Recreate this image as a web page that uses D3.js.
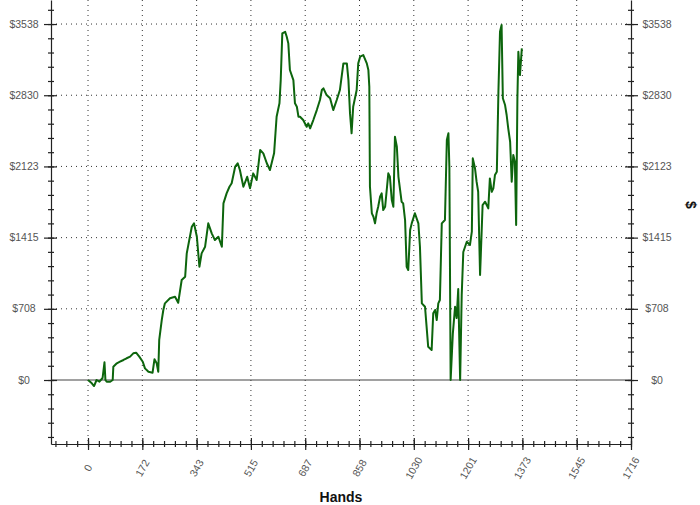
<!DOCTYPE html>
<html lang="en">

<head>
  <meta charset="UTF-8" />
  <title>Hands graph</title>
  <script src="https://d3js.org/d3.v7.min.js"></script>
  <style>
    body {
      margin: 0;
      background: #fff;
    }

    .grid line {
      stroke: #333;
      stroke-width: 1;
      stroke-dasharray: 1, 4;
    }

    .axis path,
    .axis line {
      stroke: #222;
      stroke-width: 1.2;
    }

    .lbl {
      font-family: "Liberation Sans", Arial, sans-serif;
      font-size: 10.5px;
      fill: #555;
    }

    .title {
      font-family: "Liberation Sans", Arial, sans-serif;
      font-size: 14px;
      font-weight: bold;
      fill: #111;
    }
  </style>
</head>

<body>
  <svg width="700" height="505"></svg>

  <script>
    // hand number / cumulative winnings ($)
    const hands = [0, 12, 19, 27, 36, 46, 52, 55, 59, 70, 78, 80, 91, 101, 112, 122, 133, 143, 152, 162,
      173, 180, 191, 204, 210, 217, 222, 225, 233, 238, 243, 259, 275, 285, 296, 307, 312, 320, 328, 335,
      344, 352, 359, 370, 380, 391, 401, 412, 423, 428, 438, 447, 454, 465, 473, 480, 491, 503, 512, 522,
      533, 544, 554, 565, 575, 588, 596, 605, 609, 614, 623, 628, 633, 638, 649, 654, 660, 665, 670, 680,
      691, 696, 702, 712, 723, 733, 739, 744, 754, 765, 775, 786, 796, 807, 818, 823, 828, 833, 838, 849,
      854, 860, 870, 881, 886, 889, 891, 897, 902, 907, 912, 917, 923, 928, 933, 939, 949, 954, 960, 965,
      970, 976, 981, 991, 996, 1002, 1007, 1012, 1018, 1023, 1033, 1044, 1049, 1055, 1065, 1070, 1075, 1086, 1091, 1097,
      1102, 1107, 1112, 1118, 1128, 1134, 1139, 1142, 1146, 1153, 1160, 1165, 1170, 1176, 1181, 1186, 1197, 1207, 1213, 1216,
      1223, 1228, 1233, 1239, 1244, 1247, 1255, 1265, 1270, 1276, 1281, 1286, 1292, 1297, 1302, 1307, 1311, 1318, 1323, 1328,
      1334, 1339, 1344, 1349, 1353, 1357, 1360, 1365, 1371];
    const dollars = [0, -33, -60, 0, -17, 20, 176, 0, -17, -17, 0, 132, 166, 182, 199, 216, 232, 265, 271, 232,
      182, 116, 82, 73, 206, 166, 82, 398, 596, 696, 762, 812, 828, 768, 994, 1027, 1259, 1391, 1523, 1557,
      1424, 1126, 1259, 1325, 1557, 1458, 1391, 1424, 1325, 1756, 1855, 1921, 1955, 2120, 2154, 2087, 1921, 2020, 1905, 2054,
      1988, 2286, 2253, 2154, 2087, 2253, 2617, 2750, 2981, 3445, 3461, 3412, 3346, 3081, 2981, 2750, 2716, 2617, 2617, 2584,
      2517, 2551, 2501, 2584, 2683, 2783, 2882, 2899, 2832, 2800, 2683, 2783, 2882, 3147, 3147, 2981, 2650, 2452, 2716, 2882,
      3147, 3213, 3230, 3147, 3081, 2915, 1921, 1657, 1623, 1557, 1657, 1722, 1822, 1855, 1689, 1722, 2054, 2020, 1789, 1722,
      2418, 2319, 2020, 1772, 1756, 1590, 1126, 1093, 1491, 1557, 1657, 1557, 1325, 762, 728, 530, 331, 298, 663, 696,
      596, 762, 795, 1557, 1590, 2385, 2452, 2120, 0, 464, 728, 616, 904, 0, 845, 1272, 1374, 1342, 1474, 2203,
      2104, 1971, 1871, 1043, 1474, 1739, 1772, 1706, 2004, 1871, 1905, 2037, 2070, 2865, 3461, 3528, 2800, 2733, 2634, 2501,
      2368, 1971, 2236, 2170, 1540, 2800, 3263, 3031, 3296];

    const xTicks = [0, 171.6, 343.2, 514.8, 686.4, 858, 1029.6, 1201.2, 1372.8, 1544.4, 1716];
    const xTickLabels = ["0", "172", "343", "515", "687", "858", "1030", "1201", "1373", "1545", "1716"];
    const yTicks = [0, 707.6, 1415.2, 2122.8, 2830.4, 3538];
    const yTickLabels = ["$0", "$708", "$1415", "$2123", "$2830", "$3538"];
    const xLimits = [-117, 1716];
    const yLimits = [-636, 3777];

    const data = hands.map((h, i) => ({ h: h, v: dollars[i] }));

    const svg = d3.select("svg");
    const mLeft = 51, mRight = 631, mTop = 0, mBottom = 444;

    const x = d3.scaleLinear().domain(xLimits).range([mLeft, mRight]);
    const y = d3.scaleLinear().domain(yLimits).range([mBottom, mTop]);

    // minor ticks: 5 per major step
    const xStep = 1716 / 50, yStep = 3538 / 25;
    const xSmall = d3.range(-3, 51).map(k => k * xStep).filter(v => v >= xLimits[0]);
    const ySmall = d3.range(-4, 27).map(k => k * yStep).filter(v => v >= yLimits[0] && v <= yLimits[1]);

    // grid
    const grid = svg.append("g").attr("class", "grid");
    grid.selectAll(".gx").data(xTicks.slice(0, -1)).join("line")
      .attr("x1", d => x(d)).attr("x2", d => x(d))
      .attr("y1", mTop).attr("y2", mBottom);
    grid.selectAll(".gy").data(yTicks.slice(1)).join("line")
      .attr("x1", mLeft).attr("x2", mRight)
      .attr("y1", d => y(d)).attr("y2", d => y(d));

    // zero line
    svg.append("line")
      .attr("x1", mLeft).attr("x2", mRight)
      .attr("y1", y(0)).attr("y2", y(0))
      .attr("stroke", "#444").attr("stroke-width", 1.2);

    // axes
    const axL = svg.append("g").attr("class", "axis")
      .attr("transform", `translate(${mLeft},0)`)
      .call(d3.axisLeft(y).tickValues(ySmall).tickFormat("").tickSizeOuter(0).tickSizeInner(3));
    axL.selectAll(".tick line").attr("x1", 3);
    const axL2 = svg.append("g").attr("class", "axis")
      .attr("transform", `translate(${mLeft},0)`)
      .call(d3.axisLeft(y).tickValues(yTicks).tickFormat("").tickSizeOuter(0).tickSizeInner(7));
    axL2.select(".domain").remove();
    axL2.selectAll(".tick line").attr("x1", 6);

    const axR = svg.append("g").attr("class", "axis")
      .attr("transform", `translate(${mRight},0)`)
      .call(d3.axisRight(y).tickValues(ySmall).tickFormat("").tickSizeOuter(0).tickSizeInner(3));
    axR.selectAll(".tick line").attr("x1", -3);
    const axR2 = svg.append("g").attr("class", "axis")
      .attr("transform", `translate(${mRight},0)`)
      .call(d3.axisRight(y).tickValues(yTicks).tickFormat("").tickSizeOuter(0).tickSizeInner(7));
    axR2.select(".domain").remove();
    axR2.selectAll(".tick line").attr("x1", -6);

    const axB = svg.append("g").attr("class", "axis")
      .attr("transform", `translate(0,${mBottom})`)
      .call(d3.axisBottom(x).tickValues(xSmall).tickFormat("").tickSizeOuter(0).tickSizeInner(3));
    axB.selectAll(".tick line").attr("y1", -3);
    const axB2 = svg.append("g").attr("class", "axis")
      .attr("transform", `translate(0,${mBottom})`)
      .call(d3.axisBottom(x).tickValues(xTicks).tickFormat("").tickSizeOuter(0).tickSizeInner(6));
    axB2.select(".domain").remove();
    axB2.selectAll(".tick line").attr("y1", -6);

    // labels
    svg.selectAll(".yl").data(yTicks).join("text").attr("class", "lbl")
      .attr("x", 24).attr("y", d => y(d)).attr("dy", "0.35em")
      .attr("text-anchor", "middle").text((d, i) => yTickLabels[i]);
    svg.selectAll(".yr").data(yTicks).join("text").attr("class", "lbl")
      .attr("x", 657).attr("y", d => y(d)).attr("dy", "0.35em")
      .attr("text-anchor", "middle").text((d, i) => yTickLabels[i]);
    svg.selectAll(".xl").data(xTicks).join("text").attr("class", "lbl")
      .attr("transform", d => `translate(${x(d)},468) rotate(-60)`)
      .attr("dy", "0.35em")
      .attr("text-anchor", "middle").text((d, i) => xTickLabels[i]);

    svg.append("text").attr("class", "title")
      .attr("x", (mLeft + mRight) / 2).attr("y", 502)
      .attr("text-anchor", "middle").text("Hands");
    svg.append("text").attr("class", "title")
      .attr("transform", "translate(691,205) rotate(90)")
      .attr("dy", "0.35em")
      .attr("text-anchor", "middle").text("$");

    // winnings line
    const line = d3.line().x(d => x(d.h)).y(d => y(d.v));
    svg.append("path")
      .datum(data)
      .attr("fill", "none")
      .attr("stroke", "#0d650d")
      .attr("stroke-width", 2)
      .attr("stroke-linejoin", "round")
      .attr("d", line);
  </script>

</body>

</html>
